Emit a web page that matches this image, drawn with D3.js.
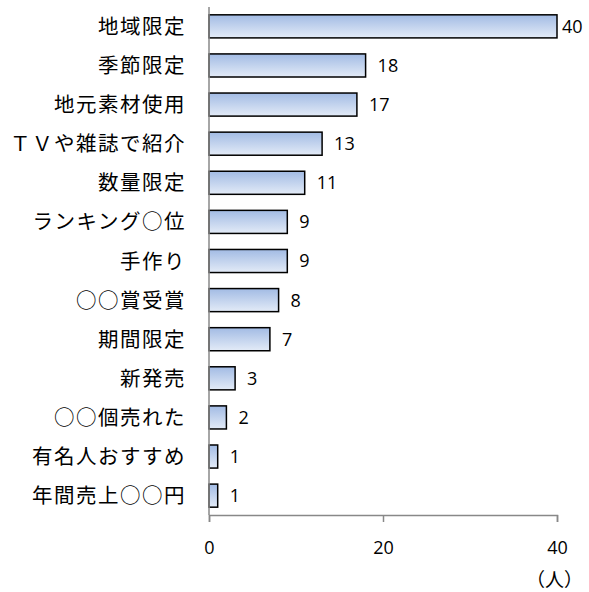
<!DOCTYPE html>
<meta charset="utf-8">
<style>
body { margin: 0; background: #fff; }
svg { font-family: "Noto Sans CJK JP", sans-serif; }
.num { font-family: "Open Sans", "Liberation Sans", sans-serif; font-size: 18px; fill: #000; }
</style>
<body>
<script src="https://d3js.org/d3.v7.min.js"></script>
<script>

// data
var categories = ["地域限定", "季節限定", "地元素材使用", "ＴＶや雑誌で紹介", "数量限定",
  "ランキング○位", "手作り", "○○賞受賞", "期間限定", "新発売", "○○個売れた",
  "有名人おすすめ", "年間売上○○円"];
var values = [40, 18, 17, 13, 11, 9, 9, 8, 7, 3, 2, 1, 1];
var xTicks = [0, 20, 40];
var unitLabel = "（人）";

var width = 589, height = 592;
var margin = {top: 7, right: 32, bottom: 77, left: 209};

var svg = d3.select("body").append("svg")
    .attr("width", width)
    .attr("height", height);

var defs = svg.append("defs");
var grad = defs.append("linearGradient")
    .attr("id", "barfill")
    .attr("x1", 0).attr("y1", 0).attr("x2", 0).attr("y2", 1);
grad.append("stop").attr("offset", "0%").attr("stop-color", "#a2bbe4");
grad.append("stop").attr("offset", "100%").attr("stop-color", "#e3ebf7");

var x = d3.scaleLinear()
    .domain([0, 40])
    .range([margin.left, 557]);

var y = d3.scaleBand()
    .domain(categories)
    .range([margin.top, height - margin.bottom])
    .paddingInner(0.41)
    .paddingOuter(0.2);

// bars
svg.selectAll("rect.bar")
    .data(values)
  .enter().append("rect")
    .attr("class", "bar")
    .attr("x", x(0))
    .attr("y", function(d, i) { return y(categories[i]); })
    .attr("width", function(d) { return x(d) - x(0); })
    .attr("height", y.bandwidth())
    .attr("fill", "url(#barfill)")
    .attr("stroke", "#000")
    .attr("stroke-width", 1.5);

// value labels
svg.selectAll("text.val")
    .data(values)
  .enter().append("text")
    .attr("class", "num val")
    .attr("x", function(d) { return Math.min(x(d) + 12, 562); })
    .attr("y", function(d, i) { return y(categories[i]) + y.bandwidth() / 2; })
    .attr("dy", "0.36em")
    .text(function(d) { return d; });

// category labels
svg.selectAll("text.cat")
    .data(categories)
  .enter().append("text")
    .attr("class", "cat")
    .attr("x", 186)
    .attr("y", function(d) { return y(d) + y.bandwidth() / 2; })
    .attr("dy", "0.37em")
    .attr("text-anchor", "end")
    .attr("font-size", 20.5)
    .attr("letter-spacing", 1.5)
    .attr("fill", "#000")
    .text(function(d) { return d; });

// y axis line
svg.append("line")
    .attr("x1", x(0)).attr("x2", x(0))
    .attr("y1", margin.top).attr("y2", height - margin.bottom)
    .attr("stroke", "#888").attr("stroke-width", 1.5);

// x axis
var xAxis = svg.append("g")
    .attr("transform", "translate(0," + (height - margin.bottom) + ")")
    .call(d3.axisBottom(x).tickValues(xTicks).tickSize(7).tickPadding(19));
xAxis.select(".domain").attr("stroke", "#888").attr("stroke-width", 1.5);
xAxis.selectAll(".tick line").attr("stroke", "#888").attr("stroke-width", 1.5);
xAxis.selectAll(".tick text").attr("class", "num").attr("font-size", null).attr("font-family", null);

svg.append("text")
    .attr("x", 583)
    .attr("y", 587)
    .attr("text-anchor", "end")
    .attr("font-size", 19)
    .text(unitLabel);

</script>
</body>
